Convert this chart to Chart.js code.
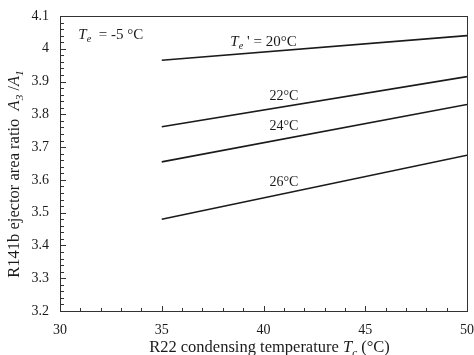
<!DOCTYPE html>
<html>
<head>
<meta charset="utf-8">
<script src="https://cdn.jsdelivr.net/npm/chart.js@4"></script>
<style>
  html, body { margin: 0; padding: 0; background: #fff; }
  #wrap { position: relative; width: 474px; height: 355px; }
</style>
</head>
<body>
<div id="wrap"><canvas id="chart"></canvas></div>
<script>
// condensing temperature Tc (°C) where the curves start and end
const tcValues = [35, 50];

// ejector area ratio A3/A1 for each generator temperature Te'
const ratio20 = [3.965, 4.040];
const ratio22 = [3.762, 3.915];
const ratio24 = [3.655, 3.830];
const ratio26 = [3.480, 3.675];

// axis ranges and labelled ticks
const xTicks = [30, 35, 40, 45, 50];
const yTicks = [3.2, 3.3, 3.4, 3.5, 3.6, 3.7, 3.8, 3.9, 4.0, 4.1];

// curve labels, anchored in data units
const curveLabels = [
  { x: 40, y: 4.022, size: 15, parts: [{ t: "T", i: true }, { t: "e", i: true, sub: true }, { t: " ' = 20°C" }] },
  { x: 41, y: 3.856, size: 14, parts: [{ t: "22°C" }] },
  { x: 41, y: 3.762, size: 14, parts: [{ t: "24°C" }] },
  { x: 41, y: 3.594, size: 14, parts: [{ t: "26°C" }] },
];
const noteLabel = { x: 30.9, y: 4.042, size: 15, parts: [{ t: "T", i: true }, { t: "e", i: true, sub: true }, { t: "  = -5 °C" }] };

const SERIF = "'Liberation Serif', 'DejaVu Serif', serif";
const INK = "#1a1a1a";

function toPoints(ys) {
  return tcValues.map((x, i) => ({ x, y: ys[i] }));
}

// draw text made of plain / italic / subscript pieces
function richWidth(ctx, parts, size) {
  let w = 0;
  parts.forEach((p) => {
    const s = p.sub ? size * 0.68 : size;
    ctx.font = (p.i ? "italic " : "") + s + "px " + SERIF;
    w += ctx.measureText(p.t).width;
  });
  return w;
}

function drawRich(ctx, parts, x, y, size, align) {
  const total = richWidth(ctx, parts, size);
  let cx = align === "center" ? x - total / 2 : x;
  ctx.textBaseline = "middle";
  ctx.textAlign = "left";
  parts.forEach((p) => {
    const s = p.sub ? size * 0.68 : size;
    ctx.font = (p.i ? "italic " : "") + s + "px " + SERIF;
    ctx.fillText(p.t, cx, p.sub ? y + size * 0.3 : y);
    cx += ctx.measureText(p.t).width;
  });
}

const decorPlugin = {
  id: "decor",
  afterDraw(chart) {
    const ctx = chart.ctx;
    const a = chart.chartArea;
    const xs = chart.scales.x;
    const ys = chart.scales.y;
    ctx.save();

    // frame
    ctx.strokeStyle = "#333";
    ctx.lineWidth = 1;
    ctx.strokeRect(Math.round(a.left) + 0.5, Math.round(a.top) + 0.5,
      Math.round(a.right - a.left), Math.round(a.bottom - a.top));

    // inward ticks
    ctx.beginPath();
    for (let v = xs.min; v <= xs.max + 1e-6; v += 1) {
      const px = Math.round(xs.getPixelForValue(v)) + 0.5;
      const len = Math.abs(v % 5) < 1e-6 ? 5 : 3;
      ctx.moveTo(px, a.bottom);
      ctx.lineTo(px, a.bottom - len);
    }
    for (let k = 0; k <= 45; k++) {
      const v = 3.2 + k * 0.02;
      const py = Math.round(ys.getPixelForValue(v)) + 0.5;
      const len = k % 5 === 0 ? 6 : 4;
      ctx.moveTo(a.left, py);
      ctx.lineTo(a.left + len, py);
    }
    ctx.stroke();

    ctx.fillStyle = INK;
    curveLabels.concat([noteLabel]).forEach((l) => {
      const px = xs.getPixelForValue(l.x);
      const py = ys.getPixelForValue(l.y);
      drawRich(ctx, l.parts, px, py, l.size, l === noteLabel ? "left" : "center");
    });

    // x title
    drawRich(ctx, [
      { t: "R22 condensing temperature " },
      { t: "T", i: true }, { t: "c", i: true, sub: true },
      { t: " (°C)" },
    ], (a.left + a.right) / 2 + 6, 348, 16.5, "center");

    // y title (rotated)
    ctx.translate(15, 174);
    ctx.rotate(-Math.PI / 2);
    drawRich(ctx, [
      { t: "R141b ejector area ratio  " },
      { t: "A", i: true }, { t: "3", i: true, sub: true },
      { t: " /" },
      { t: "A", i: true }, { t: "1", i: true, sub: true },
    ], 0, 0, 16.5, "center");

    ctx.restore();
  },
};

const lineStyle = {
  borderColor: INK,
  borderWidth: 1.6,
  pointRadius: 0,
  fill: false,
  tension: 0,
};

new Chart(document.getElementById("chart"), {
  type: "line",
  data: {
    datasets: [
      { label: "Te' = 20°C", data: toPoints(ratio20), ...lineStyle },
      { label: "22°C", data: toPoints(ratio22), ...lineStyle },
      { label: "24°C", data: toPoints(ratio24), ...lineStyle },
      { label: "26°C", data: toPoints(ratio26), ...lineStyle },
    ],
  },
  options: {
    responsive: true,
    maintainAspectRatio: false,
    animation: false,
    layout: { padding: { top: 16, right: 7, left: 0, bottom: 0 } },
    plugins: {
      legend: { display: false },
      tooltip: { enabled: false },
    },
    scales: {
      x: {
        type: "linear",
        min: xTicks[0],
        max: xTicks[xTicks.length - 1],
        afterBuildTicks: (scale) => {
          scale.ticks = xTicks.map((v) => ({ value: v }));
        },
        afterFit: (scale) => {
          scale.height = 44;
          scale.paddingLeft = 0;
          scale.paddingRight = 0;
        },
        grid: { display: false, drawTicks: false },
        border: { display: false },
        ticks: {
          color: INK,
          padding: 11,
          maxRotation: 0,
          autoSkip: false,
          font: { family: SERIF, size: 14 },
        },
      },
      y: {
        type: "linear",
        min: yTicks[0],
        max: yTicks[yTicks.length - 1],
        afterBuildTicks: (scale) => {
          scale.ticks = yTicks.map((v) => ({ value: v }));
        },
        afterFit: (scale) => {
          scale.width = 60;
          scale.paddingTop = 0;
          scale.paddingBottom = 0;
        },
        grid: { display: false, drawTicks: false },
        border: { display: false },
        ticks: {
          color: INK,
          padding: 11,
          autoSkip: false,
          font: { family: SERIF, size: 14 },
          callback: (v) => String(parseFloat(Number(v).toFixed(1))),
        },
      },
    },
  },
  plugins: [decorPlugin],
});
</script>
</body>
</html>
